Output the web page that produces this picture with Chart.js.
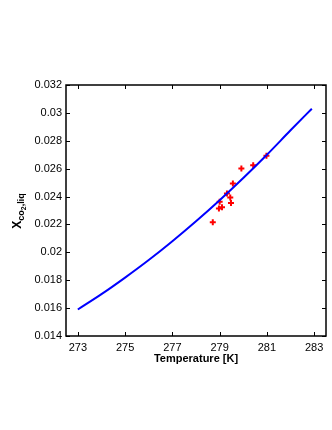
<!DOCTYPE html>
<html>
<head>
<meta charset="utf-8">
<script src="https://cdn.jsdelivr.net/npm/chart.js@4"></script>
<style>
  html, body { margin: 0; padding: 0; background: #fff; }
  #grafico { display: block; }
</style>
</head>
<body>
<canvas id="grafico" width="332" height="430"></canvas>
<script>
// curva do modelo
const temperaturaCurva = [273, 274, 275, 276, 277, 278, 279, 280, 281, 282, 282.9];
const fracaoCurva = [0.0159, 0.0170, 0.01819, 0.01945, 0.0208, 0.02223, 0.02374, 0.02533, 0.0270, 0.02875, 0.0303];

// pontos medidos
const temperaturaMedida = [278.71, 278.97, 279.10, 279.0, 279.31, 279.45, 279.48, 279.56, 279.92, 280.42, 280.98];
const fracaoMedida = [0.02215, 0.02315, 0.02324, 0.02362, 0.02422, 0.02394, 0.02353, 0.02494, 0.02601, 0.02625, 0.02692];

const ticksX = [273, 275, 277, 279, 281, 283];
const ticksY = [0.014, 0.016, 0.018, 0.02, 0.022, 0.024, 0.026, 0.028, 0.03, 0.032];

const fonte = "'Liberation Sans', Arial, sans-serif";

// caixa + marcas para dentro (estilo matlab)
const caixaPlugin = {
  id: "caixa",
  afterDraw(chart) {
    const { ctx, chartArea: { left, right, top, bottom } } = chart;
    const sx = chart.scales.x, sy = chart.scales.y;
    ctx.save();
    ctx.strokeStyle = "#000";
    ctx.lineWidth = 1.5;
    ctx.strokeRect(left, top, right - left, bottom - top);
    ctx.lineWidth = 1;
    ctx.beginPath();
    ticksX.forEach((v) => {
      const px = Math.round(sx.getPixelForValue(v)) + 0.5;
      ctx.moveTo(px, bottom); ctx.lineTo(px, bottom - 4);
      ctx.moveTo(px, top); ctx.lineTo(px, top + 4);
    });
    ticksY.forEach((v) => {
      const py = Math.round(sy.getPixelForValue(v)) + 0.5;
      ctx.moveTo(left, py); ctx.lineTo(left + 4, py);
      ctx.moveTo(right, py); ctx.lineTo(right - 4, py);
    });
    ctx.stroke();

    // rotulo do eixo y: X_{co_2,liq}
    ctx.translate(21, 211);
    ctx.rotate(-Math.PI / 2);
    ctx.fillStyle = "#000";
    ctx.textBaseline = "alphabetic";
    const partes = [
      { t: "X", f: "bold 12px " + fonte, dy: 0 },
      { t: "co", f: "bold 9px " + fonte, dy: 3 },
      { t: "2", f: "bold 7px " + fonte, dy: 5 },
      { t: ",liq", f: "bold 9px " + fonte, dy: 3 },
    ];
    let total = 0;
    partes.forEach((p) => { ctx.font = p.f; total += ctx.measureText(p.t).width; });
    let x = -total / 2;
    partes.forEach((p) => {
      ctx.font = p.f;
      ctx.fillText(p.t, x, p.dy);
      x += ctx.measureText(p.t).width;
    });
    ctx.restore();
  },
};

new Chart(document.getElementById("grafico").getContext("2d"), {
  type: "scatter",
  plugins: [caixaPlugin],
  data: {
    datasets: [
      {
        type: "line",
        data: temperaturaCurva.map((t, i) => ({ x: t, y: fracaoCurva[i] })),
        borderColor: "#0000ff",
        borderWidth: 2,
        pointRadius: 0,
        cubicInterpolationMode: "monotone",
        fill: false,
      },
      {
        data: temperaturaMedida.map((t, i) => ({ x: t, y: fracaoMedida[i] })),
        pointStyle: "cross",
        pointRadius: 3,
        borderColor: "#ff0000",
        backgroundColor: "#ff0000",
        borderWidth: 2,
      },
    ],
  },
  options: {
    responsive: false,
    animation: false,
    layout: { padding: { top: 85, right: 5, left: 10, bottom: 64 } },
    plugins: { legend: { display: false }, tooltip: { enabled: false } },
    scales: {
      x: {
        type: "linear",
        min: 272.5,
        max: 283.5,
        afterBuildTicks: (s) => { s.ticks = ticksX.map((v) => ({ value: v })); },
        afterFit: (s) => { s.height = 30; },
        grid: { display: false, drawTicks: false },
        border: { display: false },
        ticks: { color: "#000", font: { family: fonte, size: 11 }, padding: 5 },
        title: {
          display: true,
          text: "Temperature [K]",
          color: "#000",
          font: { family: fonte, size: 11, weight: "bold" },
          padding: { top: 0, bottom: 0 },
        },
      },
      y: {
        min: 0.014,
        max: 0.032,
        afterBuildTicks: (s) => { s.ticks = ticksY.map((v) => ({ value: v })); },
        afterFit: (s) => { s.width = 56; },
        grid: { display: false, drawTicks: false },
        border: { display: false },
        ticks: {
          color: "#000",
          font: { family: fonte, size: 11 },
          padding: 4,
          callback: (v) => String(parseFloat(v.toFixed(3))),
        },
      },
    },
  },
});
</script>
</body>
</html>
